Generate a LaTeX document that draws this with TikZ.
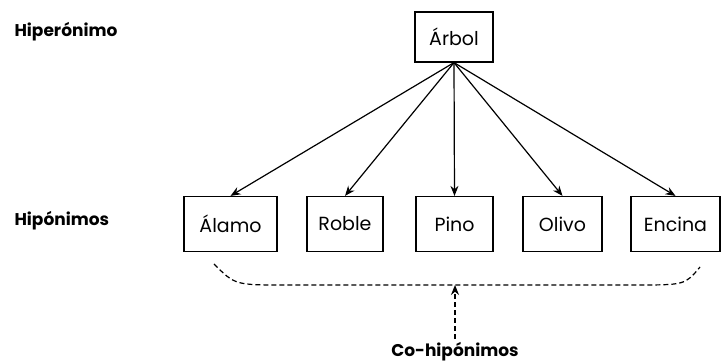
\documentclass[tikz,border=0pt]{standalone}
\usepackage{fontspec}
\setmainfont{Poppins}
\usetikzlibrary{arrows.meta}

\begin{document}
\begin{tikzpicture}[x=1pt, y=-1pt,
    word/.style={draw, line width=1.2pt, inner sep=0pt, minimum height=55pt, font=\fontsize{19}{19}\selectfont},
    level/.style={anchor=west, font=\fontsize{17}{17}\selectfont\bfseries},
    link/.style={line width=1.2pt, -{Stealth[length=10pt, width=8pt]}},
    guion/.style={line width=1.2pt, dash pattern=on 5pt off 3pt}]
    \useasboundingbox (0,0) rectangle (721,363);
    \node[level] (hiper) at (11,32) {Hiperónimo};
    \node[level] (hipo) at (11,221) {Hipónimos};
    \node[word, minimum width=78pt, minimum height=50pt] (arbol) at (454,37) {Árbol};
    \node[word, minimum width=93pt] (alamo) at (230.5,224) {Álamo};
    \node[word, minimum width=76pt] (roble) at (345,224) {Roble};
    \node[word, minimum width=77pt] (pino) at (454.5,224) {Pino};
    \node[word, minimum width=79pt] (olivo) at (562.5,224) {Olivo};
    \node[word, minimum width=89pt] (encina) at (675.5,224) {Encina};
    \draw[link] (arbol.south) -- (alamo.north);
    \draw[link] (arbol.south) -- (roble.north);
    \draw[link] (arbol.south) -- (pino.north);
    \draw[link] (arbol.south) -- (olivo.north);
    \draw[link] (arbol.south) -- (encina.north);
    % llave de co-hipónimos
    \coordinate (llaveA) at (214,264);
    \coordinate (llaveM) at (455,285);
    \coordinate (llaveB) at (700,267);
    \draw[guion] (llaveA) .. controls (235,285) .. (285,285) -- (llaveM)
        -- (635,285) .. controls (685,285) .. (llaveB);
    \node[font=\fontsize{17}{17}\selectfont\bfseries] (co) at (455,352) {Co-hipónimos};
    \draw[guion, -{Stealth[length=10pt, width=8pt]}] (co.north) -- (llaveM);
\end{tikzpicture}
\end{document}
